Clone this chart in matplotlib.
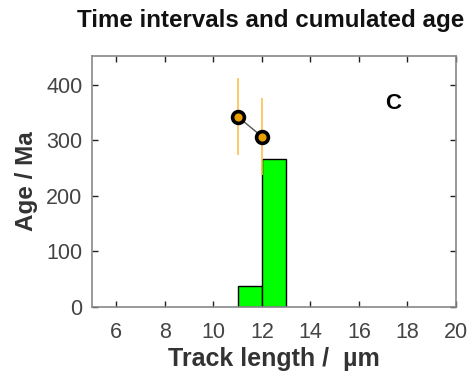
import matplotlib
matplotlib.use("Agg")
import matplotlib.pyplot as plt
import numpy as np

plt.rcParams['font.family'] = ['Liberation Sans', 'DejaVu Sans']

# Histogram of time intervals per track-length bin
bin_edges = [11, 12, 13]
interval_ages = [37, 267]

# Cumulated ages with uncertainties
cum_lengths = [11, 12]
cum_ages = [343, 307]
err_low = [69, 69]
err_high = [69, 70]

panel_label = "C"

fig = plt.figure(figsize=(4.75, 3.85), dpi=100)
ax = fig.add_axes([92 / 475, 1 - 307 / 385, (456 - 92) / 475, (307 - 56) / 385])

widths = np.diff(bin_edges)
ax.bar(bin_edges[:-1], interval_ages, width=widths, align='edge',
       color='#00ff00', edgecolor='black', linewidth=1.0, zorder=2)

ax.errorbar(cum_lengths, cum_ages, yerr=[err_low, err_high], fmt='none',
            ecolor='#ffc04d', elinewidth=1.2, capsize=0, zorder=3)
ax.plot(cum_lengths, cum_ages, color='#555555', linewidth=1.0, zorder=4)
ax.plot(cum_lengths, cum_ages, 'o', markersize=8.5, markerfacecolor='#e8a000',
        markeredgecolor='black', markeredgewidth=2.6, zorder=5)

ax.set_xlim(5, 20)
ax.set_ylim(0, 452)
ax.set_xticks(np.arange(6, 21, 2))
ax.set_yticks([0, 100, 200, 300, 400])

ax.tick_params(direction='in', top=True, right=True, length=4, width=1,
               colors='#222222', labelsize=15.5, labelcolor='#444444')
ax.tick_params(axis='x', pad=11)
ax.tick_params(axis='y', pad=7)
for s in ax.spines.values():
    s.set_color('#888888')
    s.set_linewidth(1.2)

ax.set_xlabel('Track length /  µm', fontsize=18, fontweight='bold', color='#333333', labelpad=3)
ax.set_ylabel('Age / Ma', fontsize=17.5, fontweight='bold', color='#333333', labelpad=6)
ax.text(17.4, 367, panel_label, fontsize=16, fontweight='bold', ha='center', va='center')

fig.text(271 / 475, 1 - 20 / 385, 'Time intervals and cumulated age',
         fontsize=17.4, fontweight='bold', ha='center', va='center', color='#111111')

fig.savefig('out.png', dpi=100, facecolor='white')
